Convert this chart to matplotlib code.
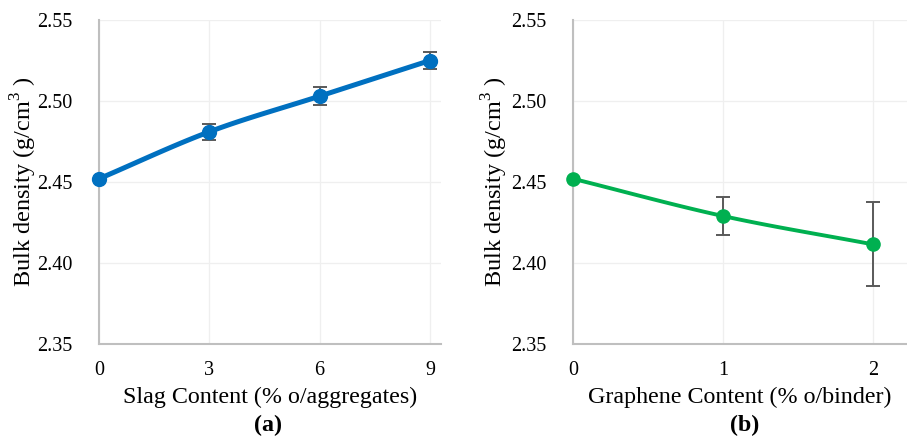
import numpy as np
import matplotlib
matplotlib.use("Agg")
import matplotlib.pyplot as plt

plt.rcParams['font.family'] = ['Liberation Serif', 'DejaVu Serif']
plt.rcParams['mathtext.fontset'] = 'custom'
plt.rcParams['mathtext.rm'] = 'Liberation Serif'

# Panel (a): slag replacement
slag_content = [0, 3, 6, 9]
slag_density = [2.452, 2.481, 2.503, 2.525]
slag_err = [0.002, 0.005, 0.0055, 0.0055]

# Panel (b): graphene addition
graphene_content = [0, 1, 2]
graphene_density = [2.452, 2.429, 2.4115]
graphene_err = [0.001, 0.0117, 0.026]

y_ticks = [2.35, 2.40, 2.45, 2.50, 2.55]


def smooth_curve(x, y, n=40, tension=0.5):
    """Catmull-Rom style curve through the points, like a spreadsheet smoothed line."""
    x = np.asarray(x, float)
    y = np.asarray(y, float)
    px = np.concatenate([[2 * x[0] - x[1]], x, [2 * x[-1] - x[-2]]])
    py = np.concatenate([[2 * y[0] - y[1]], y, [2 * y[-1] - y[-2]]])
    xs, ys = [], []
    for i in range(1, len(px) - 2):
        p0 = np.array([px[i - 1], py[i - 1]])
        p1 = np.array([px[i], py[i]])
        p2 = np.array([px[i + 1], py[i + 1]])
        p3 = np.array([px[i + 2], py[i + 2]])
        c1 = p1 + (p2 - p0) * tension / 3
        c2 = p2 - (p3 - p1) * tension / 3
        t = np.linspace(0, 1, n)[:, None]
        pts = ((1 - t) ** 3) * p1 + 3 * ((1 - t) ** 2) * t * c1 + 3 * (1 - t) * t ** 2 * c2 + t ** 3 * p2
        xs.extend(pts[:, 0])
        ys.extend(pts[:, 1])
    return np.array(xs), np.array(ys)


def style_axes(ax, xticks, xlim, ylabel_x):
    ax.set_ylim(2.35, 2.55)
    ax.set_yticks(y_ticks)
    ax.set_yticklabels([f"{v:.2f}" for v in y_ticks])
    ax.set_xlim(*xlim)
    ax.set_xticks(xticks)
    ax.set_xticklabels([str(v) for v in xticks])
    ax.grid(True, color='#EFEFEF', linewidth=0.9)
    ax.set_axisbelow(True)
    for side in ('top', 'right'):
        ax.spines[side].set_visible(False)
    for side in ('left', 'bottom'):
        ax.spines[side].set_color('#BFBFBF')
        ax.spines[side].set_linewidth(1.5)
    ax.tick_params(length=0, labelsize=14.5, colors='#000000')
    ax.tick_params(axis='y', pad=19)
    ax.tick_params(axis='x', pad=12)
    ax.set_ylabel('Bulk density (g/cm$^3$ )', fontsize=17.5)
    ax.yaxis.set_label_coords(ylabel_x, 0.5)


fig = plt.figure(figsize=(9.07, 4.37), dpi=100)
ax1 = fig.add_axes([99 / 907, 93 / 437, 342 / 907, 324 / 437])
ax2 = fig.add_axes([573 / 907, 93 / 437, 334 / 907, 324 / 437])

err_kw = dict(fmt='none', ecolor='#595959', elinewidth=1.4, capsize=5, capthick=1.4, zorder=2)

# (a)
sx, sy = smooth_curve(slag_content, slag_density)
ax1.plot(sx, sy, color='#0070C0', linewidth=3.6, zorder=3, solid_capstyle='round', clip_on=False)
ax1.errorbar(slag_content, slag_density, yerr=slag_err, **err_kw)
ax1.plot(slag_content, slag_density, 'o', color='#0070C0', markersize=10, zorder=4, clip_on=False)
style_axes(ax1, slag_content, (0, 9.3), -0.176)
ax1.set_xlabel('Slag Content (% o/aggregates)', fontsize=17.3, labelpad=5)

# (b)
gx, gy = smooth_curve(graphene_content, graphene_density)
ax2.plot(gx, gy, color='#00B050', linewidth=2.8, zorder=3, solid_capstyle='round', clip_on=False)
ax2.errorbar(graphene_content, graphene_density, yerr=graphene_err, **err_kw)
ax2.plot(graphene_content, graphene_density, 'o', color='#00B050', markersize=9.5, zorder=4, clip_on=False)
style_axes(ax2, graphene_content, (0, 2.227), -0.19)
ax2.set_xlabel('Graphene Content (% o/binder)', fontsize=17.3, labelpad=5)

fig.text(268 / 907, 1 - 425 / 437, '(a)', fontsize=17.3, fontweight='bold', ha='center', va='center')
fig.text(745 / 907, 1 - 425 / 437, '(b)', fontsize=17.3, fontweight='bold', ha='center', va='center')

fig.savefig('out.png', dpi=100)
